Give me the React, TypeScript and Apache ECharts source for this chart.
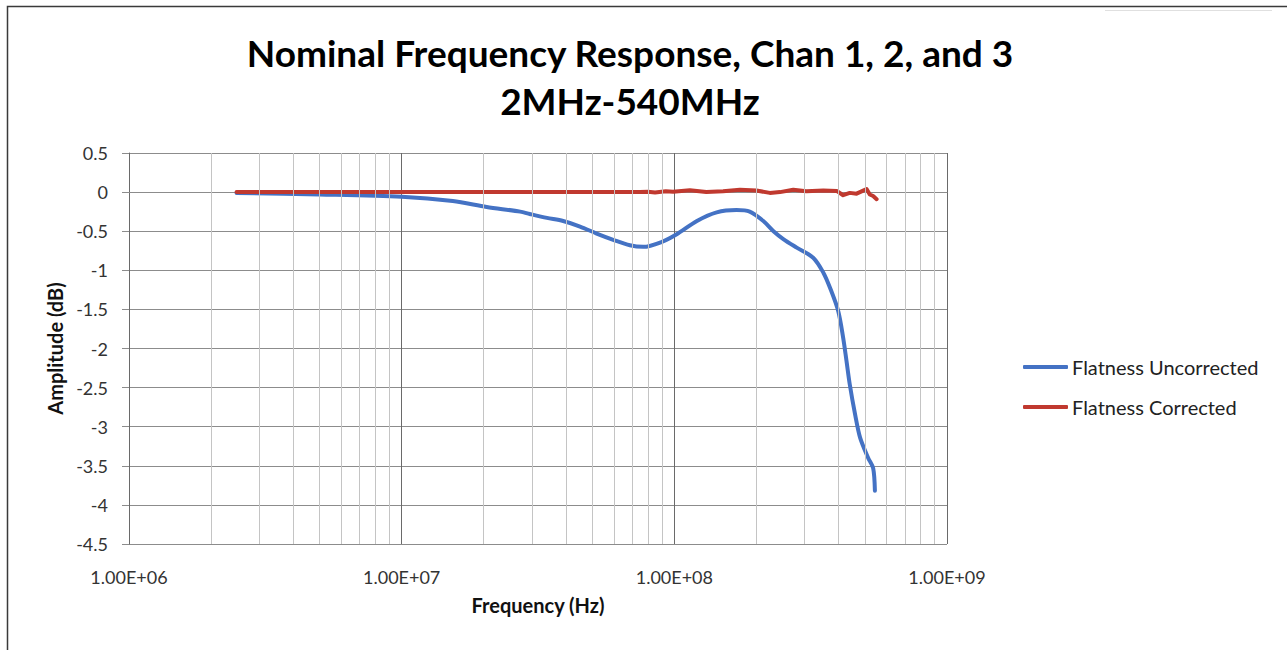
import React, { useEffect, useRef } from "react";
import * as echarts from "echarts";

// Frequency (Hz) and amplitude (dB) of the uncorrected response
const FREQ_UNCORRECTED = [
  2.48e6, 5.01e6, 1.0e7, 1.54e7, 2.05e7, 2.72e7, 2.95e7, 3.41e7, 3.91e7, 4.51e7,
  5.19e7, 5.97e7, 6.87e7, 7.69e7, 9.1e7, 1.02e8, 1.21e8, 1.43e8, 1.69e8, 1.89e8,
  2.12e8, 2.31e8, 2.51e8, 2.81e8, 3.23e8, 3.52e8, 3.72e8, 3.99e8, 4.16e8, 4.28e8,
  4.4e8, 4.6e8, 4.8e8, 5.14e8, 5.36e8, 5.44e8,
];
const AMP_UNCORRECTED = [
  -0.01, -0.03, -0.06, -0.115, -0.19, -0.25, -0.28, -0.33, -0.37, -0.44,
  -0.53, -0.61, -0.68, -0.7, -0.63, -0.54, -0.37, -0.26, -0.23, -0.25,
  -0.37, -0.5, -0.6, -0.71, -0.84, -1.03, -1.22, -1.52, -1.86, -2.16,
  -2.46, -2.84, -3.14, -3.4, -3.53, -3.82,
];

// Frequency (Hz) and amplitude (dB) of the corrected response
const FREQ_CORRECTED = [
  2.48e6, 1.0e7, 5.0e7, 7.48e7, 8.0e7, 8.5e7, 9.3e7, 9.9e7, 1.14e8, 1.31e8,
  1.51e8, 1.74e8, 2.0e8, 2.24e8, 2.44e8, 2.73e8, 3.05e8, 3.52e8, 3.94e8, 4.16e8,
  4.4e8, 4.66e8, 4.86e8, 5.07e8, 5.21e8, 5.36e8, 5.52e8,
];
const AMP_CORRECTED = [
  0, 0, 0, 0, 0.005, -0.005, 0.01, 0.005, 0.025, 0,
  0.01, 0.03, 0.02, -0.01, 0, 0.03, 0.01, 0.02, 0.015, -0.04,
  -0.01, -0.02, 0.01, 0.04, -0.03, -0.05, -0.09,
];

// Minor (log) gridline positions
const MINOR_GRID = [
  2e6, 3e6, 4e6, 5e6, 6e6, 7e6, 8e6, 9e6,
  2e7, 3e7, 4e7, 5e7, 6e7, 7e7, 8e7, 9e7,
  2e8, 3e8, 4e8, 5e8, 6e8, 7e8, 8e8, 9e8,
];

const X_MIN = 1e6;
const X_MAX = 1e9;
const Y_MIN = -4.5;
const Y_MAX = 0.5;
const Y_STEP = 0.5;

const TITLE = "Nominal Frequency Response, Chan 1, 2, and 3\n2MHz-540MHz";
const SERIES_NAMES = ["Flatness Uncorrected", "Flatness Corrected"];

const FONT = "Lato, 'Open Sans', sans-serif";

function fmtExp(v: number): string {
  const e = Math.round(Math.log10(v));
  const m = v / Math.pow(10, e);
  const sign = e >= 0 ? "+" : "-";
  return m.toFixed(2) + "E" + sign + String(Math.abs(e)).padStart(2, "0");
}

export default function App() {
  const ref = useRef<HTMLDivElement>(null);

  useEffect(() => {
    if (!ref.current) return;
    const chart = echarts.init(ref.current, null, { renderer: "svg" });
    const option: any = {
      animation: false,
      backgroundColor: "#ffffff",
      textStyle: { fontFamily: FONT },
      title: {
        text: TITLE,
        left: 630,
        top: 28,
        padding: 0,
        textAlign: "center",
        textStyle: {
          fontFamily: FONT,
          fontSize: 37,
          fontWeight: "bold",
          color: "#000000",
          lineHeight: 48,
        },
      },
      legend: {
        data: SERIES_NAMES,
        orient: "vertical",
        left: 1023,
        top: 357,
        padding: 0,
        icon: "roundRect",
        itemWidth: 45,
        itemHeight: 4,
        itemGap: 20,
        textStyle: { fontFamily: FONT, fontSize: 20, color: "#222", padding: [0, 0, 0, -1] },
      },
      grid: { left: 129, top: 153, right: 340, bottom: 106, containLabel: false },
      xAxis: {
        type: "log",
        logBase: 10,
        min: X_MIN,
        max: X_MAX,
        name: "Frequency (Hz)",
        nameLocation: "middle",
        nameGap: 51,
        nameTextStyle: { fontFamily: FONT, fontSize: 20, fontWeight: "bold", color: "#111" },
        axisLine: { show: true, lineStyle: { color: "#8c8c8c", width: 1 } },
        axisTick: { show: false },
        axisLabel: {
          formatter: (v: number) => fmtExp(v),
          fontFamily: FONT,
          fontSize: 18,
          color: "#333",
          margin: 24,
        },
        splitLine: { show: true, lineStyle: { color: "#6a6a6a", width: 1 } },
      },
      yAxis: {
        type: "value",
        min: Y_MIN,
        max: Y_MAX,
        interval: Y_STEP,
        name: "Amplitude (dB)",
        nameLocation: "middle",
        nameGap: 64,
        nameTextStyle: { fontFamily: FONT, fontSize: 20, fontWeight: "bold", color: "#111" },
        axisLine: { show: true, lineStyle: { color: "#6a6a6a", width: 1 } },
        axisTick: { show: true, length: 7, lineStyle: { color: "#8c8c8c" } },
        axisLabel: {
          fontFamily: FONT,
          fontSize: 18,
          color: "#333",
          margin: 21,
        },
        splitLine: { show: true, lineStyle: { color: "#8c8c8c", width: 1 } },
      },
      graphic: [
        {
          type: "rect",
          silent: true,
          shape: { x: 7.5, y: 6.5, width: 1300, height: 700 },
          style: { fill: "none", stroke: "#3a3a3a", lineWidth: 1.5 },
          z: 100,
        },
        {
          type: "line",
          silent: true,
          shape: { x1: 1105, y1: 10.5, x2: 1272, y2: 10.5 },
          style: { stroke: "#e0e0e0", lineWidth: 1 },
        },
      ],
      series: [
        {
          name: "minor-grid",
          type: "line",
          data: [],
          z: 0,
          silent: true,
          markLine: {
            silent: true,
            symbol: ["none", "none"],
            label: { show: false },
            lineStyle: { color: "#c4c4c4", width: 1, type: "solid" },
            emphasis: { disabled: true },
            data: MINOR_GRID.map((v) => ({ xAxis: v })),
          },
        },
        {
          name: SERIES_NAMES[0],
          type: "line",
          z: 3,
          symbol: "none",
          smooth: 0.3,
          lineStyle: { color: "#4472C4", width: 4, cap: "round", join: "round" },
          itemStyle: { color: "#4472C4" },
          data: FREQ_UNCORRECTED.map((f, i) => [f, AMP_UNCORRECTED[i]]),
        },
        {
          name: SERIES_NAMES[1],
          type: "line",
          z: 4,
          symbol: "none",
          lineStyle: { color: "#C0392F", width: 4, cap: "round", join: "round" },
          itemStyle: { color: "#C0392F" },
          data: FREQ_CORRECTED.map((f, i) => [f, AMP_CORRECTED[i]]),
        },
      ],
    };
    chart.setOption(option);
    return () => chart.dispose();
  }, []);

  return (
    <div
      ref={ref}
      style={{ position: "fixed", left: 0, top: 0, width: 1287, height: 650, background: "#fff" }}
    />
  );
}
